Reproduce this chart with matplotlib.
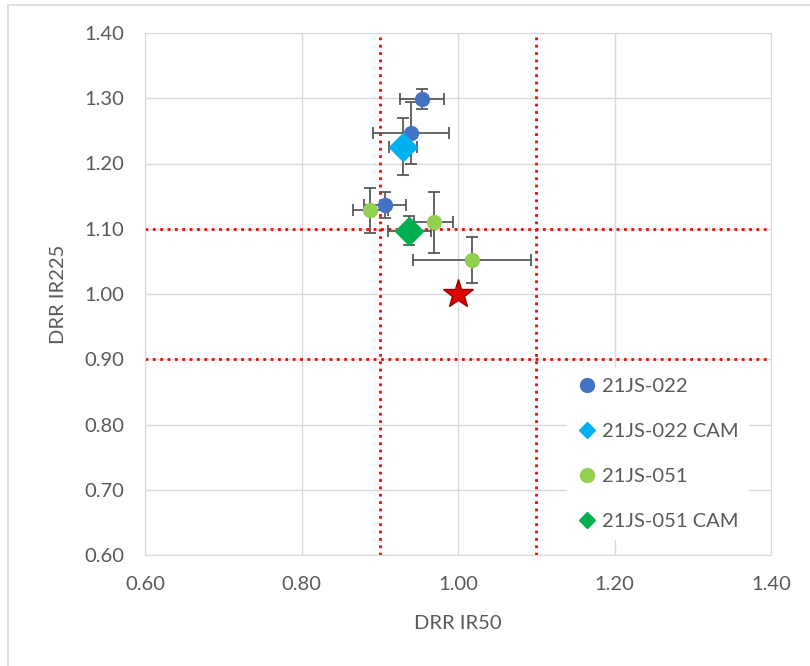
import matplotlib.pyplot as plt
from matplotlib.patches import Rectangle
from matplotlib.lines import Line2D

plt.rcParams['font.family'] = ['Lato', 'DejaVu Sans']

# series: x, y, x error, y error
s022_x = [0.954, 0.940, 0.907]
s022_y = [1.299, 1.247, 1.137]
s022_xerr = [0.028, 0.049, 0.027]
s022_yerr = [0.015, 0.048, 0.020]

s022cam_x = [0.930]
s022cam_y = [1.226]
s022cam_xerr = [0.018]
s022cam_yerr = [0.043]

s051_x = [0.888, 0.969, 1.018]
s051_y = [1.128, 1.110, 1.052]
s051_xerr = [0.022, 0.025, 0.075]
s051_yerr = [0.034, 0.047, 0.035]

s051cam_x = [0.938]
s051cam_y = [1.097]
s051cam_xerr = [0.027]
s051cam_yerr = [0.022]

ref_x = [1.0]
ref_y = [1.0]

x_limits = [0.9, 1.1]
y_limits = [0.9, 1.1]

ticks = [0.60, 0.80, 1.00, 1.20, 1.40]
yticks = [0.60, 0.70, 0.80, 0.90, 1.00, 1.10, 1.20, 1.30, 1.40]

names = ['21JS-022', '21JS-022 CAM', '21JS-051', '21JS-051 CAM']
colours = ['#4472C4', '#00B0F0', '#92D050', '#00B050']
shapes = ['o', 'D', 'o', 'D']

grey = '#595959'

fig = plt.figure(figsize=(8.1, 6.66), dpi=100)
fig.patches.append(Rectangle((8 / 810, -0.1), 1.2, 1.1 - 5 / 666,
                             transform=fig.transFigure, fill=False,
                             edgecolor='#D9D9D9', linewidth=1.2))
ax = fig.add_axes([145 / 810, 111 / 666, 626 / 810, 522 / 666])

for v in x_limits:
    ax.axvline(v, color='red', linestyle=':', linewidth=2, zorder=2)
for v in y_limits:
    ax.axhline(v, color='red', linestyle=':', linewidth=2, zorder=2)

eb = dict(fmt='none', ecolor=grey, elinewidth=1.3, capsize=4, capthick=1.3, zorder=3)

ax.errorbar(s022_x, s022_y, xerr=s022_xerr, yerr=s022_yerr, **eb)
ax.plot(s022_x, s022_y, 'o', color=colours[0], markersize=10, linestyle='none', zorder=4)
ax.errorbar(s022cam_x, s022cam_y, xerr=s022cam_xerr, yerr=s022cam_yerr, **eb)
ax.plot(s022cam_x, s022cam_y, 'D', color=colours[1], markersize=14, linestyle='none', zorder=4)
ax.errorbar(s051_x, s051_y, xerr=s051_xerr, yerr=s051_yerr, **eb)
ax.plot(s051_x, s051_y, 'o', color=colours[2], markersize=10, linestyle='none', zorder=4)
ax.errorbar(s051cam_x, s051cam_y, xerr=s051cam_xerr, yerr=s051cam_yerr, **eb)
ax.plot(s051cam_x, s051cam_y, 'D', color=colours[3], markersize=14, linestyle='none', zorder=5)
ax.plot(ref_x, ref_y, '*', color='#E00000', markeredgecolor='#A00000',
        markersize=22, linestyle='none', zorder=5)

ax.set_xlim(0.6, 1.4)
ax.set_ylim(0.6, 1.4)
ax.set_xticks(ticks)
ax.set_yticks(yticks)
ax.set_xticklabels([f'{t:.2f}' for t in ticks])
ax.set_yticklabels([f'{t:.2f}' for t in yticks])
ax.grid(True, color='#D9D9D9', linewidth=1)
ax.set_axisbelow(True)
for sp in ax.spines.values():
    sp.set_color('#D9D9D9')
ax.tick_params(length=0, labelsize=14.5, labelcolor=grey, pad=15)

ax.set_xlabel('DRR IR50', fontsize=14.5, color=grey, labelpad=16)
ax.set_ylabel('DRR IR225', fontsize=14.5, color=grey, labelpad=12)

handles = [Line2D([], [], marker=m, color=c, linestyle='none',
                  markersize=10 if m == 'o' else 7.7)
           for m, c in zip(shapes, colours)]
leg = ax.legend(handles, names, loc='upper left', bbox_to_anchor=(0.674, 0.358),
                frameon=True, fontsize=14.5, labelspacing=1.38, handletextpad=0.25,
                handlelength=1.0, borderpad=0.5, borderaxespad=0)
leg.get_frame().set_edgecolor('none')
leg.get_frame().set_facecolor('white')
leg.get_frame().set_alpha(1)
leg.get_frame().set_boxstyle('square', pad=0)
for t in leg.get_texts():
    t.set_color(grey)

fig.savefig('out.png', dpi=100)
